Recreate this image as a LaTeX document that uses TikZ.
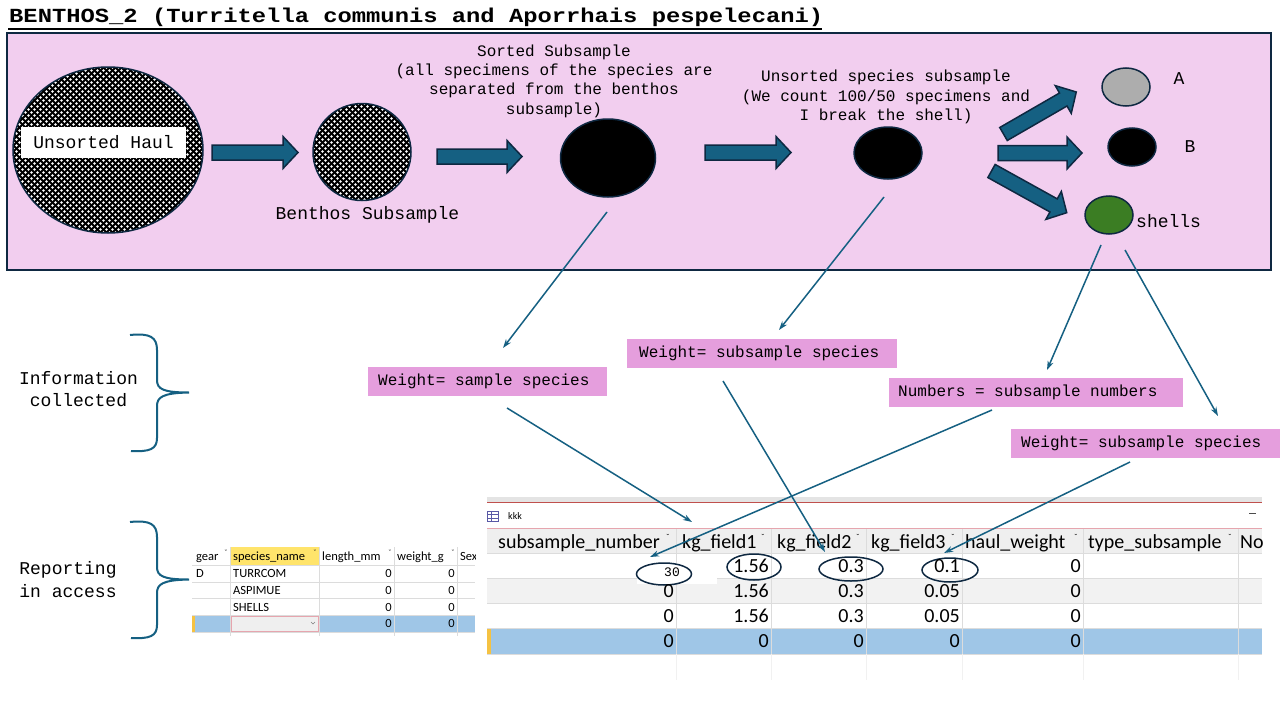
\documentclass[tikz,border=0pt]{standalone}
\usepackage{fontspec}
\setmainfont{Liberation Mono}
\newfontfamily\calib{Carlito}
\usetikzlibrary{patterns,shapes.geometric,arrows.meta}
\definecolor{pinkbg}{HTML}{F2CEEF}
\definecolor{navy}{HTML}{0E2841}
\definecolor{arrowblue}{HTML}{156082}
\definecolor{orchid}{HTML}{E59EDD}
\definecolor{shellgreen}{HTML}{3B7D23}
\definecolor{greyA}{HTML}{ADADAD}
\definecolor{selblue}{HTML}{9FC6E7}
\definecolor{hdrgray}{HTML}{EFEFEF}
\definecolor{rowgray}{HTML}{F2F2F2}
\definecolor{gridgray}{HTML}{DCDCDC}
\definecolor{hdryellow}{HTML}{FFE46B}
\definecolor{accred}{HTML}{C0504D}
\definecolor{accpink}{HTML}{E6A5AE}
\definecolor{markyellow}{HTML}{F5C242}
\pgfdeclarepatternformonly{wcircles}{\pgfqpoint{-1pt}{-1pt}}{\pgfqpoint{7pt}{7pt}}{\pgfqpoint{6pt}{6pt}}{%
  \pgfpathcircle{\pgfqpoint{1.5pt}{1.5pt}}{1.45pt}%
  \pgfpathcircle{\pgfqpoint{4.5pt}{4.5pt}}{1.45pt}%
  \pgfusepath{fill}}
\tikzset{
  barrow/.pic={\draw[navy, line width=1.5pt, fill=arrowblue, line join=miter]
      (0,-7.5) -- (#1-15,-7.5) -- (#1-15,-16) -- (#1,0) -- (#1-15,16) -- (#1-15,7.5) -- (0,7.5) -- cycle;},
  cbrace/.pic={\draw[arrowblue, line width=2pt]
      (0,0) .. controls (20,-2) and (27,2) .. (27,15) -- (27,45)
      .. controls (27,54) and (33,57.5) .. (59,57.5)
      .. controls (33,58) and (27,62) .. (27,71) -- (27,103)
      .. controls (27,114) and (20,117) .. (1,116);},
  blob/.style={ellipse, draw=navy, line width=1.5pt, inner sep=0pt},
  dotted blob/.style={blob, preaction={fill=black}, pattern=wcircles, pattern color=white},
  txt16/.style={font=\fontsize{16}{19.3}\selectfont, inner sep=0pt, align=center},
  txt18/.style={font=\fontsize{18}{22.5}\selectfont, inner sep=0pt, align=center},
  lbl/.style={fill=orchid, font=\fontsize{16}{18}\selectfont, inner ysep=0pt, minimum height=29pt, anchor=west},
  conn/.style={arrowblue, line width=1.5pt, -{Stealth[length=9pt,width=6pt]}},
  ring/.style={ellipse, draw=navy, line width=1.5pt, inner sep=0pt},
  bt/.style={font=\calib\fontsize{20}{24}\selectfont, inner sep=0pt},
  st/.style={font=\calib\fontsize{12.5}{15}\selectfont, inner sep=0pt},
}
\begin{document}
\begin{tikzpicture}[x=1pt,y=-1pt]
\useasboundingbox (0,0) rectangle (1280,720);
\fill[white] (0,0) rectangle (1280,720);

% title
\node[anchor=base west, inner sep=0pt, font=\bfseries\fontsize{20}{24}\selectfont] (title) at (9,23)
  {\scalebox{1.19}[1]{BENTHOS\_2 (Turritella communis and Aporrhais pespelecani)}};
\draw[line width=2pt] (8,29) -- (822,29);

% pink panel
\draw[navy, line width=2pt, fill=pinkbg] (7,33) rectangle (1271,270);

% process blobs
\node[dotted blob, minimum width=190pt, minimum height=166pt] (haul) at (108,150) {};
\node[fill=white, minimum width=165pt, minimum height=31pt, inner sep=0pt, font=\fontsize{18}{20}\selectfont] (haullbl) at (103.5,142.5) {Unsorted Haul};
\node[dotted blob, minimum width=98pt, minimum height=97pt] (benthos) at (362,152) {};
\node[txt18] (benthoslbl) at (367.5,215) {Benthos Subsample};

\node[blob, fill=black, minimum width=95pt, minimum height=78pt] (sorted) at (608,158) {};
\node[txt16] (sortedlbl) at (554,81) {Sorted Subsample\\(all specimens of the species are\\separated from the benthos\\subsample)};

\node[blob, fill=black, minimum width=68pt, minimum height=52pt] (unsorted) at (888,153) {};
\node[txt16] (unsortedlbl) at (886,97) {Unsorted species subsample\\(We count 100/50 specimens and\\I break the shell)};

\node[blob, fill=greyA, minimum width=48pt, minimum height=38pt] (A) at (1126,87) {};
\node[txt18] (Albl) at (1179,79) {A};
\node[blob, fill=black, minimum width=48pt, minimum height=38pt] (B) at (1132,147) {};
\node[txt18] (Blbl) at (1190,147) {B};
\node[blob, fill=shellgreen, minimum width=48pt, minimum height=38pt] (shells) at (1109,215) {};
\node[txt18, anchor=west] (shellslbl) at (1136,221) {shells};

% block arrows
\pic at (212,152.5) {barrow=86};
\pic at (437,156.5) {barrow=85};
\pic at (705,152.5) {barrow=86};
\pic[rotate=30] at (1003.5,134) {barrow=84};
\pic at (998,153) {barrow=84};
\pic[rotate=-29] at (991.5,171) {barrow=86};

% left labels and braces
\node[txt18] (info) at (78.5,389) {Information\\collected};
\node[txt18] (report) at (68,579.5) {Reporting\\in access};
\pic at (130,335) {cbrace};
\pic at (130,522) {cbrace};

% label boxes
\node[lbl, inner xsep=10pt] (w1) at (368,381.5) {\makebox[219pt][l]{Weight= sample species}};
\node[lbl, inner xsep=12pt] (w2) at (627,353.5) {\makebox[246pt][l]{Weight= subsample species}};
\node[lbl, inner xsep=9pt] (n3) at (889,392.5) {\makebox[276pt][l]{Numbers = subsample numbers}};
\node[lbl, inner xsep=10pt] (w4) at (1011,443.5) {\makebox[249pt][l]{Weight= subsample species}};

% ---------------- small access table ----------------
\fill[white] (192,547) rectangle (475,636);
\fill[hdryellow] (230,547) rectangle (319,565);
\fill[selblue] (192,615) rectangle (475,632);
\fill[markyellow] (192,615) rectangle (195,632);
\draw[gridgray, line width=0.6pt] (192,565) -- (475,565) (192,582) -- (475,582) (192,598) -- (475,598) (192,615) -- (475,615) (192,632) -- (475,632);
\draw[gridgray, line width=0.6pt] (230,547) -- (230,636) (319,547) -- (319,636) (394,547) -- (394,636) (457,547) -- (457,636);
\draw[accpink, fill=hdrgray, line width=0.8pt] (231,616) rectangle (318,631);
\draw[gray, line width=0.5pt] (311,622) -- (313,624) -- (315,622);
\begin{scope}
\clip (192,545) rectangle (475,640);
\node[st, anchor=base west] (h1) at (196,560) {gear};
\node[st, anchor=base west] (h2) at (233,560) {species\_name};
\node[st, anchor=base west] (h3) at (322,560) {length\_mm};
\node[st, anchor=base west] (h4) at (397,560) {weight\_g};
\node[st, anchor=base west] (h5) at (460,560) {Sex};
\end{scope}
\foreach \x in {226,315,390,453} \node[st, font=\calib\fontsize{8}{9}\selectfont] at (\x,553) {ˇ};
\node[st, anchor=base west] (s1a) at (196,577) {D};
\node[st, anchor=base west] (s1b) at (233,577) {TURRCOM};
\node[st, anchor=base west] (s2b) at (233,594) {ASPIMUE};
\node[st, anchor=base west] (s3b) at (233,611) {SHELLS};
\foreach \yy in {577,594,611,627} {
  \node[st, anchor=base east] at (392,\yy) {0};
  \node[st, anchor=base east] at (455,\yy) {0};
}

% ---------------- big access table ----------------
\fill[hdrgray!90!gray] (487,497) rectangle (1262,502);
\draw[accred, line width=0.8pt] (487,502) -- (1262,502);
\fill[white] (487,503) rectangle (1262,528);
\draw[gray!70!blue, line width=0.6pt] (487,511) rectangle (498,521) (487,514.5) -- (498,514.5) (487,518) -- (498,518) (491,511) -- (491,521);
\node[st, font=\calib\fontsize{10}{12}\selectfont, anchor=base west] (kkk) at (508,519) {kkk};
\draw[black!70, line width=0.8pt] (1249,513) -- (1256,513);
\draw[accpink, line width=0.8pt] (487,528) -- (1262,528);
\fill[hdrgray] (487,529) rectangle (1262,553);
\fill[white] (487,553) rectangle (1262,680);
\fill[rowgray] (487,578) rectangle (1262,603);
\fill[selblue] (487,628) rectangle (1262,654);
\fill[markyellow] (487,628) rectangle (491,654);
\draw[gridgray, line width=0.6pt] (487,553) -- (1262,553) (487,578) -- (1262,578) (487,603) -- (1262,603) (487,628) -- (1262,628) (487,654) -- (1262,654);
\foreach \x in {676,771,866,962,1083,1238} \draw[gridgray, line width=0.8pt] (\x,529) -- (\x,654);
\foreach \x in {676,771,866,962,1083,1238} \draw[gridgray!40, line width=0.6pt] (\x,654) -- (\x,680);
\begin{scope}
\clip (487,529) rectangle (1262,553);
\node[bt, anchor=base west] (H1) at (498,548) {subsample\_number};
\node[bt, anchor=base west] (H2) at (682,548) {kg\_field1};
\node[bt, anchor=base west] (H3) at (777,548) {kg\_field2};
\node[bt, anchor=base west] (H4) at (871,548) {kg\_field3};
\node[bt, anchor=base west] (H5) at (965,548) {haul\_weight};
\node[bt, anchor=base west] (H6) at (1088,548) {type\_subsample};
\node[bt, anchor=base west] (H7) at (1240,548) {No};
\end{scope}
\foreach \x in {668,763,858,953,1076,1230} \node[st, font=\calib\fontsize{9}{10}\selectfont] at (\x,537) {ˇ};

% row 1 with highlight rings
\fill[white] (637,563) rectangle (717,584);
\node[ring, fill=white, minimum width=55pt, minimum height=22pt] (r30) at (664,574) {};
\node[inner sep=0pt, font=\fontsize{13}{15}\selectfont] (v30) at (672,572) {30};
\node[ring, minimum width=54pt, minimum height=26pt] (r156) at (754,567) {};
\node[ring, minimum width=64pt, minimum height=24pt] (r03) at (851,569) {};
\node[ring, minimum width=56pt, minimum height=24pt] (r01) at (950,570) {};
\node[bt, anchor=base east] at (769,572.5) {1.56};
\node[bt, anchor=base east] at (864,572.5) {0.3};
\node[bt, anchor=base east] at (960,572.5) {0.1};
\node[bt, anchor=base east] at (1081,572.5) {0};
% rows 2 and 3
\foreach \yy in {597.5,622.5} {
  \node[bt, anchor=base east] at (674,\yy) {0};
  \node[bt, anchor=base east] at (769,\yy) {1.56};
  \node[bt, anchor=base east] at (864,\yy) {0.3};
  \node[bt, anchor=base east] at (960,\yy) {0.05};
  \node[bt, anchor=base east] at (1081,\yy) {0};
}
% row 4
\foreach \x in {674,769,864,960,1081} \node[bt, anchor=base east] at (\x,647.5) {0};

% ---------------- connectors ----------------
\coordinate (c1s) at (607,212);  \coordinate (c1e) at (503,348);
\coordinate (c2s) at (884,197);  \coordinate (c2e) at (779,330);
\coordinate (c3s) at (1101,245); \coordinate (c3e) at (1047,370);
\coordinate (c4s) at (1125,250); \coordinate (c4e) at (1218,416);
\coordinate (c5s) at (507,408);  \coordinate (c5e) at (692,522);
\coordinate (c6s) at (723,381);  \coordinate (c6e) at (825,552);
\coordinate (c7s) at (992,410);  \coordinate (c7e) at (650,557);
\coordinate (c8s) at (1130,462); \coordinate (c8e) at (944,553);
\draw[conn] (c1s) -- (c1e);
\draw[conn] (c2s) -- (c2e);
\draw[conn] (c3s) -- (c3e);
\draw[conn] (c4s) -- (c4e);
\draw[conn] (c5s) -- (c5e);
\draw[conn] (c6s) -- (c6e);
\draw[conn] (c7s) -- (c7e);
\draw[conn] (c8s) -- (c8e);
\end{tikzpicture}
\end{document}
